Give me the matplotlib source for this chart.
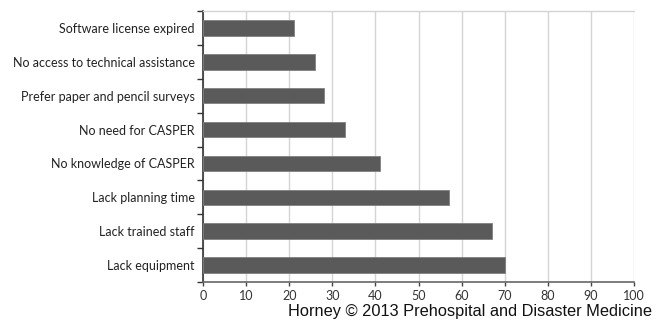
import numpy as np
import matplotlib.pyplot as plt

categories = ['Lack equipment', 'Lack trained staff', 'Lack planning time',
              'No knowledge of CASPER', 'No need for CASPER',
              'Prefer paper and pencil surveys',
              'No access to technical assistance', 'Software license expired']
values = [70, 67, 57, 41, 33, 28, 26, 21]
xticks = [0, 10, 20, 30, 40, 50, 60, 70, 80, 90, 100]

fig = plt.figure(figsize=(6.57, 3.22), dpi=100)
ax = fig.add_axes([0.309, 0.124, 0.656, 0.842])

y = np.arange(len(categories))
ax.barh(y, values, height=0.46, color='#5a5a5a', edgecolor='#808080', linewidth=0.6, zorder=3)

ax.set_xlim(0, 100)
ax.set_ylim(-0.5, len(categories) - 0.5)
ax.set_xticks(xticks)
ax.set_xticklabels([str(t) for t in xticks], fontsize=9, family='Lato', color='#333333')
ax.set_yticks(y)
ax.set_yticklabels(categories, fontsize=9, family='Lato', color='#222222')
ax.set_yticks(np.arange(-0.5, len(categories), 1), minor=True)

ax.tick_params(axis='y', which='major', length=0, pad=6)
ax.tick_params(axis='y', which='minor', length=4, width=1, color='#333333', direction='out')
ax.tick_params(axis='x', which='major', length=3, width=1, color='#444444', direction='out', pad=3)

ax.grid(axis='x', color='#d4d4d4', linewidth=1, zorder=0)
ax.spines['right'].set_visible(False)
ax.spines['top'].set_color('#d4d4d4')
ax.spines['top'].set_linewidth(1)
ax.spines['left'].set_color('#333333')
ax.spines['left'].set_linewidth(1.2)
ax.spines['bottom'].set_color('#666666')
ax.spines['bottom'].set_linewidth(1.2)

fig.text(0.993, 0.008, 'Horney \u00a9 2013 Prehospital and Disaster Medicine',
         ha='right', va='bottom', fontsize=11.8, family='Liberation Sans', color='#111111')

fig.savefig('out.png', dpi=100)
